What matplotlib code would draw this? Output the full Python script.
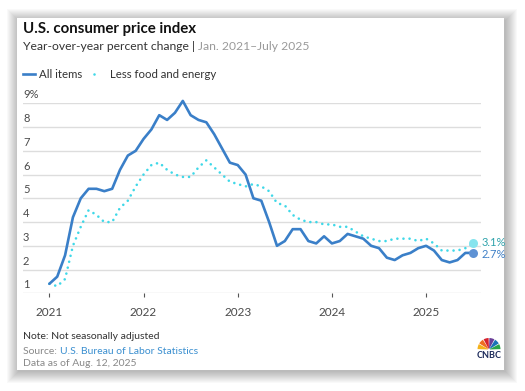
import matplotlib
matplotlib.use("Agg")
import matplotlib.pyplot as plt
from matplotlib.patches import Rectangle, Wedge
from matplotlib.lines import Line2D
import numpy as np

plt.rcParams['font.family'] = ['Lato', 'DejaVu Sans']

# ---------------- data ----------------
start_year = 2021
all_items = [1.4, 1.7, 2.6, 4.2, 5.0, 5.4, 5.4, 5.3, 5.4, 6.2, 6.8, 7.0,
             7.5, 7.9, 8.5, 8.3, 8.6, 9.1, 8.5, 8.3, 8.2, 7.7, 7.1, 6.5,
             6.4, 6.0, 5.0, 4.9, 4.0, 3.0, 3.2, 3.7, 3.7, 3.2, 3.1, 3.4,
             3.1, 3.2, 3.5, 3.4, 3.3, 3.0, 2.9, 2.5, 2.4, 2.6, 2.7, 2.9,
             3.0, 2.8, 2.4, 2.3, 2.4, 2.7, 2.7]
core = [1.4, 1.3, 1.6, 3.0, 3.8, 4.5, 4.3, 4.0, 4.0, 4.6, 4.9, 5.5,
        6.0, 6.4, 6.5, 6.2, 6.0, 5.9, 5.9, 6.3, 6.6, 6.3, 6.0, 5.7,
        5.6, 5.5, 5.6, 5.5, 5.3, 4.8, 4.7, 4.3, 4.1, 4.0, 4.0, 3.9,
        3.9, 3.8, 3.8, 3.6, 3.4, 3.3, 3.2, 3.2, 3.3, 3.3, 3.3, 3.2,
        3.3, 3.1, 2.8, 2.8, 2.8, 2.9, 3.1]
x_ticks = [2021, 2022, 2023, 2024, 2025]
y_ticks = [1, 2, 3, 4, 5, 6, 7, 8, 9]
y_tick_labels = ["1", "2", "3", "4", "5", "6", "7", "8", "9%"]

BLUE = "#3a7fc8"
CYAN = "#3fd8e8"
LW = 1.9
DOTS = (0, (0.01, 2.3))

W, H = 525, 391
fig = plt.figure(figsize=(W / 100, H / 100), dpi=100)
fig.patch.set_facecolor("white")

def fx(px):
    return px / W

def fy(py):
    return 1 - py / H

# ---------------- card with shadow ----------------
cx0, cy0, cx1, cy1 = 17, 18, 504, 370
for i in range(12, 0, -1):
    r = Rectangle((fx(cx0 - i + 2), fy(cy1 + i + 1)),
                  fx(cx1 - cx0 + 2 * i - 1), (cy1 - cy0 + 2 * i - 2) / H,
                  transform=fig.transFigure, facecolor="black",
                  alpha=0.022, edgecolor="none", zorder=0)
    fig.patches.append(r)
card = Rectangle((fx(cx0), fy(cy1)), fx(cx1 - cx0), (cy1 - cy0) / H,
                 transform=fig.transFigure, facecolor="white",
                 edgecolor="none", zorder=0.5)
fig.patches.append(card)

# ---------------- axes ----------------
ax_l, ax_r, ax_t, ax_b = 23, 481, 103.3, 293.3
ax = fig.add_axes([fx(ax_l), fy(ax_b), fx(ax_r - ax_l), (ax_b - ax_t) / H])
ax.set_facecolor("none")
ax.set_zorder(2)

x = np.array([start_year + m / 12 for m in range(len(all_items))])
ax.set_xlim(2020.72, 2025.583)
ax.set_ylim(1, 9)

for v in y_ticks:
    ax.axhline(v, color="#dddddd", lw=1.0, zorder=1)
for v, lab in zip(y_ticks, y_tick_labels):
    ax.text(0, v + 0.12, lab, transform=ax.get_yaxis_transform(),
            ha="left", va="bottom", fontsize=8, color="#4a4a4a")

ax.plot(x, core, color=CYAN, lw=LW, linestyle=DOTS,
        dash_capstyle="round", clip_on=False, zorder=3)
ax.plot(x, all_items, color=BLUE, lw=LW, solid_joinstyle="round",
        solid_capstyle="round", clip_on=False, zorder=4)

ax.plot(x[-1], core[-1], "o", ms=6.5, color="#86e4ee", mec="none",
        clip_on=False, zorder=5)
ax.plot(x[-1], all_items[-1], "o", ms=6.5, color="#5e92d4", mec="none",
        clip_on=False, zorder=5)
ax.annotate(f"{core[-1]:.1f}%", (x[-1], core[-1]), xytext=(6, 1),
            textcoords="offset points", ha="left", va="center",
            fontsize=8, color="#2fa3ac", annotation_clip=False)
ax.annotate(f"{all_items[-1]:.1f}%", (x[-1], all_items[-1]), xytext=(6, -1),
            textcoords="offset points", ha="left", va="center",
            fontsize=8, color="#3d7fc6", annotation_clip=False)

for s in ax.spines.values():
    s.set_visible(False)
ax.set_yticks([])
ax.set_xticks(x_ticks)
ax.set_xticklabels([str(t) for t in x_ticks], fontsize=8.5, color="#4a4a4a")
ax.tick_params(axis="x", length=3, width=0.8, color="#555555", pad=7)

# ---------------- titles / legend ----------------
fig.text(fx(23), fy(29), "U.S. consumer price index", fontsize=10.8,
         fontweight="bold", color="#111111", ha="left", va="center")
t1 = fig.text(fx(23), fy(46.5), "Year-over-year percent change | ",
              fontsize=8.7, color="#333333", ha="left", va="center")
fig.canvas.draw()
bb = t1.get_window_extent()
fig.text(bb.x1 / fig.bbox.width, fy(46.5), "Jan. 2021\u2013July 2025",
         fontsize=8.7, color="#9a9a9a", ha="left", va="center")

fig.lines.append(Line2D([fx(23), fx(35)], [fy(74), fy(74)], color=BLUE,
                        lw=LW, transform=fig.transFigure, zorder=3))
fig.text(fx(39), fy(74), "All items", fontsize=8.2, color="#333333",
         ha="left", va="center")
fig.lines.append(Line2D([fx(94), fx(100)], [fy(74), fy(74)], color=CYAN,
                        lw=LW, linestyle=DOTS, dash_capstyle="round",
                        transform=fig.transFigure, zorder=3))
fig.text(fx(110), fy(74), "Less food and energy", fontsize=8.2,
         color="#333333", ha="left", va="center")

# ---------------- footer ----------------
fig.text(fx(23), fy(336.5), "Note: Not seasonally adjusted", fontsize=7.5,
         color="#333333", ha="left", va="center")
t2 = fig.text(fx(23), fy(351), "Source: ", fontsize=7.5, color="#888888",
              ha="left", va="center")
fig.canvas.draw()
bb2 = t2.get_window_extent()
fig.text(bb2.x1 / fig.bbox.width, fy(351), "U.S. Bureau of Labor Statistics",
         fontsize=7.5, color="#3a8fd0", ha="left", va="center")
fig.text(fx(23), fy(363), "Data as of Aug. 12, 2025", fontsize=7.5,
         color="#888888", ha="left", va="center")

# CNBC logo (simplified peacock), drawn in a 30x23 px box
lax = fig.add_axes([fx(474), fy(360), fx(30), 23 / H])
lax.set_zorder(3)
lax.set_xlim(0, 30)
lax.set_ylim(0, 23)
lax.axis("off")
cols = ["#f5b21a", "#ef6c21", "#d6232e", "#6b3f98", "#1b72b8", "#2aa449"]
for i, c in enumerate(cols):
    a0 = 180 - i * 30
    lax.add_patch(Wedge((15, 10.5), 11.5, a0 - 28, a0 - 2, width=10.5,
                        facecolor=c, edgecolor="none"))
lax.text(15, 4.5, "CNBC", ha="center", va="center", fontsize=6.5,
         fontweight="bold", color="#1c2a5a")

fig.savefig("out.png", dpi=100)
